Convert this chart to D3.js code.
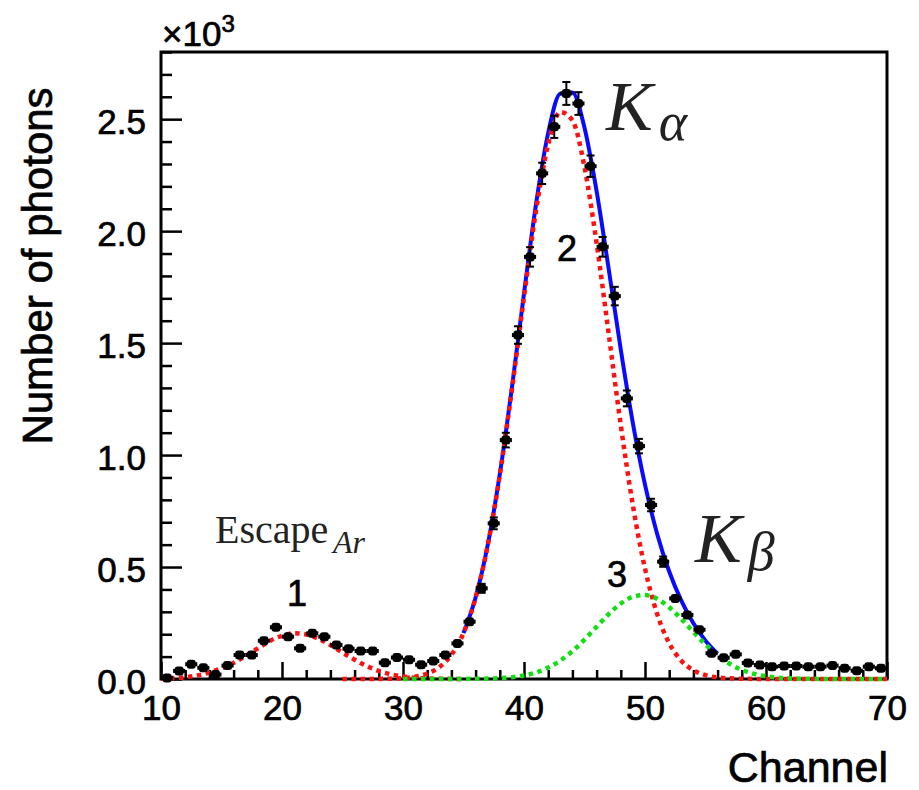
<!DOCTYPE html>
<html>
<head>
<meta charset="utf-8">
<script src="https://cdn.jsdelivr.net/npm/d3@7"></script>
<style>
  html, body { margin: 0; padding: 0; background: #fff; }
  svg { display: block; }
</style>
</head>
<body>
<script>
// Measured spectrum: photons per channel (bin centres at channel + 0.5)
const channels = d3.range(10.5, 70, 1);
const counts = [
  5, 36, 66, 50, 20, 60, 107, 107, 171, 231,
  189, 137, 204, 189, 152, 135, 125, 125, 73, 96,
  86, 64, 80, 107, 159, 256, 405, 695, 1067, 1536,
  1885, 2258, 2466, 2615, 2570, 2290, 1930, 1710, 1253, 1040,
  777, 524, 360, 286, 220, 115, 95, 110, 72, 62,
  55, 58, 58, 55, 55, 60, 48, 37, 55, 48
];

// Fitted components, sampled once per channel
const escapeFitStart = 10;   // peak 1: Ar escape peak
const escapeFit = [2, 4, 8, 16, 29, 48, 72, 104, 137, 170, 193, 204, 199, 180, 152,
  118, 86, 58, 36, 21, 11, 5, 2.5, 1, 0.5, 0.2];
const kAlphaFitStart = 25;   // peak 2: K-alpha
const kAlphaFit = [0, 0, 0.1, 0.5, 1.4, 4, 10, 24, 53, 108, 205, 363, 596, 911, 1293,
  1706, 2094, 2388, 2532, 2495, 2286, 1946, 1541, 1133, 775, 493, 291, 160, 82, 39,
  17, 7, 3, 1, 0.4, 0, 0, 0, 0, 0, 0, 0, 0, 0, 0, 0];
const kBetaFitStart = 30;    // peak 3: K-beta
const kBetaFit = [0, 0, 0, 0.05, 0.1, 0.3, 1, 1.7, 3.9, 8.1, 16, 29, 51, 82, 124,
  176, 233, 290, 337, 367, 375, 358, 320, 268, 210, 154, 106, 68, 41, 23,
  12, 6, 3, 1.3, 0.6, 0, 0, 0, 0, 0, 0];
const totalFitStart = 35;    // K-alpha + K-beta
const totalFit = [205, 364, 598, 915, 1301, 1722, 2123, 2439, 2614, 2619, 2462, 2179,
  1831, 1470, 1142, 868, 649, 480, 350, 249, 171, 113];

const xTicks = [10, 20, 30, 40, 50, 60, 70];
const xMinorTicks = d3.range(10, 71, 2).filter(v => v % 10 !== 0);
const yTicks = [0, 500, 1000, 1500, 2000, 2500];
const yMinorTicks = d3.range(0, 2801, 100).filter(v => v % 500 !== 0);

const W = 919, H = 790;
const svg = d3.select("body").append("svg").attr("width", W).attr("height", H);

const x = d3.scaleLinear().domain([10, 70]).range([161, 887]);
const y = d3.scaleLinear().domain([0, 2800]).range([679, 52]);

const sans = "'Liberation Sans', Arial, Helvetica, sans-serif";
const serif = "'Liberation Serif', 'Times New Roman', serif";

// Heavier Helvetica-like lettering
function heavy(sel) {
  return sel.attr("font-family", sans).attr("fill", "#000")
    .attr("stroke", "#000").attr("stroke-width", 0.7);
}

// Axes with inward ticks
function styleAxis(g) {
  g.select(".domain").remove();
  g.selectAll(".tick line").attr("stroke", "#000").attr("stroke-width", 2.5);
  heavy(g.selectAll(".tick text")).attr("font-size", 35);
}

svg.append("g").attr("transform", `translate(0,${y(0)})`)
  .call(d3.axisBottom(x).tickValues(xTicks).tickSize(-17).tickPadding(16).tickFormat(d3.format("d")))
  .call(styleAxis);
svg.append("g").attr("transform", `translate(0,${y(0)})`)
  .call(d3.axisBottom(x).tickValues(xMinorTicks).tickSize(-9).tickFormat(""))
  .call(styleAxis);

svg.append("g").attr("transform", `translate(${x(10)},0)`)
  .call(d3.axisLeft(y).tickValues(yTicks).tickSize(-21).tickPadding(15).tickFormat(d => (d / 1000).toFixed(1)))
  .call(styleAxis)
  .call(g => g.selectAll(".tick text").attr("dy", "0.4em"));
svg.append("g").attr("transform", `translate(${x(10)},0)`)
  .call(d3.axisLeft(y).tickValues(yMinorTicks).tickSize(-11).tickFormat(""))
  .call(styleAxis);

// Frame
svg.append("rect")
  .attr("x", x(10)).attr("y", y(2800))
  .attr("width", x(70) - x(10)).attr("height", y(0) - y(2800))
  .attr("fill", "none").attr("stroke", "#000").attr("stroke-width", 3);

// Fit curves
function series(start, vals) {
  return vals.map((v, i) => ({ c: start + i, v }));
}
const line = d3.line().x(d => x(d.c)).y(d => y(d.v)).curve(d3.curveMonotoneX);

svg.append("path").datum(series(totalFitStart, totalFit))
  .attr("d", line).attr("fill", "none").attr("stroke", "#0a0aff").attr("stroke-width", 4);

const dotted = [
  { start: escapeFitStart, vals: escapeFit, color: "#ff1010" },
  { start: kAlphaFitStart, vals: kAlphaFit, color: "#ff1010" },
  { start: kBetaFitStart, vals: kBetaFit, color: "#10e010" }
];
dotted.forEach(s => {
  svg.append("path").datum(series(s.start, s.vals))
    .attr("d", line).attr("fill", "none").attr("stroke", s.color)
    .attr("stroke-width", 4.5).attr("stroke-dasharray", "4.5 4.5");
});

// Data points with Poisson errors and bin-width bars
const pts = channels.map((c, i) => ({ c, n: counts[i] }));
const gp = svg.append("g").attr("stroke", "#000").attr("fill", "#000");
pts.forEach(d => {
  const e = Math.sqrt(d.n);
  const cx = x(d.c), cy = y(d.n);
  gp.append("line").attr("x1", x(d.c - 0.5)).attr("x2", x(d.c + 0.5))
    .attr("y1", cy).attr("y2", cy).attr("stroke-width", 4);
  if (y(d.n - e) - y(d.n + e) > 9) {
    const t = y(d.n + e), b = y(d.n - e);
    gp.append("line").attr("x1", cx).attr("x2", cx).attr("y1", t).attr("y2", b).attr("stroke-width", 2);
    gp.append("line").attr("x1", cx - 4).attr("x2", cx + 4).attr("y1", t).attr("y2", t).attr("stroke-width", 2);
    gp.append("line").attr("x1", cx - 4).attr("x2", cx + 4).attr("y1", b).attr("y2", b).attr("stroke-width", 2);
  }
  gp.append("rect").attr("x", cx - 4.5).attr("y", cy - 4.5).attr("width", 9).attr("height", 9)
    .attr("rx", 3).attr("stroke", "none");
});

// Axis titles and exponent
heavy(svg.append("text").attr("x", 162).attr("y", 46))
  .attr("font-size", 35)
  .text("×10")
  .append("tspan").attr("font-size", 24).attr("dy", -14).text("3");

heavy(svg.append("text")
  .attr("transform", "translate(52,266) rotate(-90)")
  .attr("text-anchor", "middle"))
  .attr("font-size", 42)
  .text("Number of photons");

heavy(svg.append("text").attr("x", 888).attr("y", 782).attr("text-anchor", "end"))
  .attr("font-size", 43)
  .text("Channel");

// Peak numbers
[["1", 297, 606], ["2", 567, 261], ["3", 617, 587]].forEach(([t, px, py]) => {
  heavy(svg.append("text").attr("x", px).attr("y", py).attr("text-anchor", "middle"))
    .attr("font-size", 36).text(t);
});

// Peak names
const esc = svg.append("text").attr("x", 215).attr("y", 543)
  .attr("font-family", serif).attr("font-size", 40).attr("fill", "#222");
esc.append("tspan").text("Escape");
esc.append("tspan").attr("x", 333).attr("y", 553).attr("font-size", 32)
  .attr("font-style", "italic").text("Ar");

function kLabel(px, py, sub, subDy) {
  const t = svg.append("text").attr("x", px).attr("y", py)
    .attr("font-family", serif).attr("font-size", 70).attr("fill", "#222");
  t.append("tspan").attr("font-style", "italic").text("K");
  t.append("tspan").attr("font-style", "italic").attr("font-size", 54)
    .attr("dx", 6).attr("dy", subDy).text(sub);
}
kLabel(606, 130, "α", 10);
kLabel(695, 562, "β", 8);
</script>
</body>
</html>
